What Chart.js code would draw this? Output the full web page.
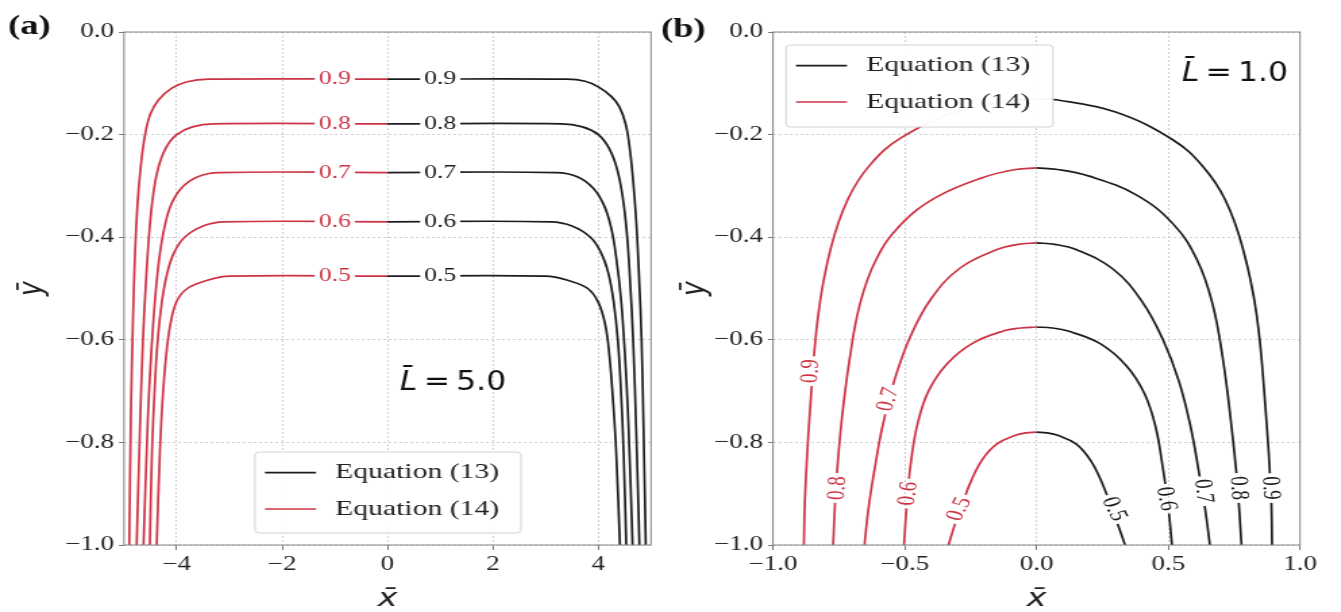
<!DOCTYPE html>
<html>
<head>
<meta charset="utf-8">
<title>Contours L = 5.0 / L = 1.0</title>
<script src="https://cdn.jsdelivr.net/npm/chart.js@4.4.1/dist/chart.umd.min.js"></script>
<style>
  html, body { margin: 0; padding: 0; background: #fff; overflow: hidden; }
  #fig { position: relative; width: 1341px; height: 612px; }
  #fig canvas { position: absolute; top: 0; }
</style>
</head>
<body>
<div id="fig">
  <canvas id="chartA"></canvas>
  <canvas id="chartB"></canvas>
</div>
<script>
// The source figure is stretched sideways, so each panel is drawn narrow and widened by CSS.
const STRETCH = 1.35;

const RED = '#cc3344';
const BLACK = '#1c1c1c';
const GRID = '#cfcfcf';
const TICK = '#777';
const FRAME = '#858585';

const seriesNames = ['Equation (13)', 'Equation (14)'];
const seriesColors = [BLACK, RED];
const levels = ['0.9', '0.8', '0.7', '0.6', '0.5'];

const yTicks = [0, -0.2, -0.4, -0.6, -0.8, -1.0];
const yTickLabels = ['0.0', '−0.2', '−0.4', '−0.6', '−0.8', '−1.0'];

// ---- panel (a), L = 5.0 ----
const lengthA = '5.0';
const xTicksA = [-4, -2, 0, 2, 4];
const xTickLabelsA = ['−4', '−2', '0', '2', '4'];

// Equation (13), right half, one curve per level
const eq13A = [
  [[0, -0.092], [3.4, -0.092], [3.75, -0.096], [4.0, -0.107], [4.25, -0.126], [4.4, -0.146], [4.52, -0.18], [4.6, -0.23], [4.66, -0.29], [4.72, -0.37], [4.77, -0.47], [4.82, -0.6], [4.86, -0.78], [4.9, -1.0]],
  [[0, -0.179], [3.3, -0.179], [3.7, -0.185], [4.0, -0.2], [4.2, -0.226], [4.35, -0.265], [4.46, -0.32], [4.54, -0.39], [4.6, -0.48], [4.66, -0.6], [4.72, -0.78], [4.78, -1.0]],
  [[0, -0.274], [3.2, -0.274], [3.6, -0.282], [3.9, -0.304], [4.1, -0.336], [4.24, -0.38], [4.34, -0.44], [4.43, -0.52], [4.5, -0.62], [4.57, -0.76], [4.65, -1.0]],
  [[0, -0.37], [3.1, -0.37], [3.5, -0.378], [3.85, -0.4], [4.05, -0.43], [4.19, -0.47], [4.29, -0.525], [4.37, -0.6], [4.43, -0.7], [4.48, -0.82], [4.53, -1.0]],
  [[0, -0.476], [3.0, -0.476], [3.45, -0.485], [3.8, -0.5], [4.0, -0.527], [4.13, -0.57], [4.21, -0.63], [4.28, -0.72], [4.34, -0.82], [4.41, -1.0]]
];

// Equation (14), left half
const eq14A = [
  [[0, -0.092], [-3.4, -0.092], [-3.8, -0.097], [-4.1, -0.11], [-4.35, -0.133], [-4.5, -0.16], [-4.6, -0.2], [-4.68, -0.26], [-4.74, -0.33], [-4.79, -0.43], [-4.83, -0.56], [-4.87, -0.75], [-4.9, -1.0]],
  [[0, -0.179], [-3.3, -0.179], [-3.7, -0.185], [-4.0, -0.2], [-4.2, -0.225], [-4.35, -0.265], [-4.45, -0.32], [-4.52, -0.39], [-4.58, -0.48], [-4.64, -0.6], [-4.7, -0.78], [-4.76, -1.0]],
  [[0, -0.274], [-3.2, -0.274], [-3.6, -0.282], [-3.9, -0.303], [-4.1, -0.335], [-4.23, -0.38], [-4.33, -0.44], [-4.41, -0.52], [-4.48, -0.62], [-4.55, -0.76], [-4.63, -1.0]],
  [[0, -0.37], [-3.1, -0.37], [-3.5, -0.378], [-3.85, -0.4], [-4.05, -0.43], [-4.18, -0.47], [-4.28, -0.525], [-4.36, -0.6], [-4.42, -0.7], [-4.47, -0.82], [-4.51, -1.0]],
  [[0, -0.476], [-3.0, -0.476], [-3.45, -0.485], [-3.8, -0.5], [-4.0, -0.525], [-4.12, -0.57], [-4.2, -0.63], [-4.27, -0.72], [-4.32, -0.82], [-4.38, -1.0]]
];

// where the inline level labels sit on the flat part (x value)
const clabelXA = [1.0, -1.0];

// ---- panel (b), L = 1.0 ----
const lengthB = '1.0';
const xTicksB = [-1, -0.5, 0, 0.5, 1];
const xTickLabelsB = ['−1.0', '−0.5', '0.0', '0.5', '1.0'];

const eq13B = [
  [[0, -0.131], [0.08, -0.1325], [0.3, -0.156], [0.517, -0.21], [0.633, -0.263], [0.716, -0.327], [0.782, -0.42], [0.835, -0.55], [0.87, -0.74], [0.89, -0.9], [0.894, -1.0]],
  [[0, -0.265], [0.08, -0.268], [0.2, -0.281], [0.38, -0.318], [0.52, -0.375], [0.61, -0.445], [0.668, -0.53], [0.708, -0.64], [0.738, -0.76], [0.762, -0.88], [0.778, -1.0]],
  [[0, -0.411], [0.07, -0.414], [0.15, -0.424], [0.29, -0.462], [0.4, -0.525], [0.48, -0.6], [0.54, -0.68], [0.585, -0.77], [0.617, -0.86], [0.64, -0.93], [0.658, -1.0]],
  [[0, -0.575], [0.06, -0.577], [0.12, -0.583], [0.24, -0.607], [0.34, -0.65], [0.41, -0.705], [0.452, -0.77], [0.478, -0.845], [0.499, -0.92], [0.514, -1.0]],
  [[0, -0.78], [0.04, -0.7815], [0.08, -0.786], [0.15, -0.803], [0.205, -0.835], [0.248, -0.878], [0.28, -0.92], [0.31, -0.962], [0.336, -1.0]]
];

const eq14B = [
  [[0, -0.131], [-0.08, -0.1325], [-0.3, -0.155], [-0.51, -0.205], [-0.63, -0.258], [-0.715, -0.325], [-0.78, -0.42], [-0.828, -0.55], [-0.86, -0.74], [-0.878, -0.9], [-0.883, -1.0]],
  [[0, -0.265], [-0.08, -0.268], [-0.2, -0.283], [-0.38, -0.322], [-0.52, -0.378], [-0.61, -0.445], [-0.67, -0.53], [-0.71, -0.64], [-0.74, -0.76], [-0.76, -0.88], [-0.772, -1.0]],
  [[0, -0.411], [-0.07, -0.414], [-0.15, -0.424], [-0.29, -0.46], [-0.4, -0.52], [-0.48, -0.595], [-0.54, -0.68], [-0.585, -0.77], [-0.617, -0.86], [-0.638, -0.93], [-0.653, -1.0]],
  [[0, -0.575], [-0.06, -0.577], [-0.12, -0.582], [-0.24, -0.606], [-0.34, -0.647], [-0.41, -0.7], [-0.452, -0.765], [-0.477, -0.84], [-0.492, -0.92], [-0.503, -1.0]],
  [[0, -0.78], [-0.04, -0.7815], [-0.08, -0.786], [-0.15, -0.803], [-0.205, -0.833], [-0.248, -0.875], [-0.282, -0.92], [-0.31, -0.96], [-0.334, -1.0]]
];

// inline labels: x, y, angle of the text in degrees
const clabelB13 = [[0.888, -0.889, 87], [0.766, -0.889, 86], [0.633, -0.895, 82], [0.492, -0.91, 78], [0.294, -0.93, 62]];
const clabelB14 = [[-0.857, -0.661, -87], [-0.755, -0.889, -86], [-0.563, -0.716, -72], [-0.486, -0.9, -82], [-0.293, -0.93, -63]];

// ---- drawing ----
const TICK_FONT = {family: 'Liberation Serif', size: 20};
const TITLE_FONT = {family: 'DejaVu Sans', style: 'italic', size: 25, lineHeight: 1};
const LABEL_FONT = '19px "Liberation Serif"';
const LEGEND_FONT = '22px "Liberation Serif"';
const NOTE_SIZE = 27;
const NOTE_SQUEEZE = 0.86;   // the L-bar note is less stretched than the rest

function contourSets(curves, color) {
  return curves.map((c, i) => ({
    label: levels[i],
    data: c.map(p => ({x: p[0], y: p[1]})),
    borderColor: color,
    borderWidth: 1.7,
    showLine: true,
    pointRadius: 0,
    fill: false,
    tension: 0.4
  }));
}

// extra drawing: inline labels (with a gap cut in the line), frame, legend, notes
function decorPlugin(d) {
  const cx = X => (X - d.geo.left) / d.s;
  const rot = deg => Math.atan2(Math.sin(deg * Math.PI / 180), Math.cos(deg * Math.PI / 180) / d.s);

  function labelBoxes(chart) {
    const ctx = chart.ctx;
    ctx.font = LABEL_FONT;
    return d.labels.map(lb => ({
      text: lb.text, color: lb.color,
      px: chart.scales.x.getPixelForValue(lb.x),
      py: chart.scales.y.getPixelForValue(lb.y),
      r: rot(lb.angle),
      w: ctx.measureText(lb.text).width + 6
    }));
  }

  return {
    id: 'decor',
    beforeDatasetsDraw(chart) {
      const ctx = chart.ctx;
      const boxes = labelBoxes(chart);
      ctx.save();
      const m = ctx.getTransform();
      ctx.beginPath();
      ctx.rect(0, 0, chart.width, chart.height);
      boxes.forEach(b => {
        ctx.translate(b.px, b.py);
        ctx.rotate(b.r);
        ctx.rect(-b.w / 2, -8, b.w, 16);
        ctx.setTransform(m);
      });
      ctx.clip('evenodd');
    },
    afterDatasetsDraw(chart) {
      const ctx = chart.ctx;
      const a = chart.chartArea;
      ctx.restore();
      ctx.save();

      // level labels
      ctx.font = LABEL_FONT;
      ctx.textAlign = 'center';
      ctx.textBaseline = 'middle';
      labelBoxes(chart).forEach(b => {
        ctx.save();
        ctx.translate(b.px, b.py);
        ctx.rotate(b.r);
        ctx.fillStyle = b.color;
        ctx.fillText(b.text, 0, 0);
        ctx.restore();
      });

      // axes frame
      ctx.strokeStyle = FRAME;
      ctx.lineWidth = 1;
      ctx.strokeRect(a.left, a.top, a.right - a.left, a.bottom - a.top);

      // legend
      const L = d.legend;
      const lx = cx(L.x), lw = L.w / d.s;
      ctx.beginPath();
      if (ctx.roundRect) ctx.roundRect(lx, L.y, lw, L.h, 3); else ctx.rect(lx, L.y, lw, L.h);
      ctx.fillStyle = 'rgba(255,255,255,0.96)';
      ctx.fill();
      ctx.strokeStyle = '#d2d2d2';
      ctx.lineWidth = 1;
      ctx.stroke();
      ctx.textAlign = 'left';
      seriesNames.forEach((name, i) => {
        const y = L.y + 20.7 + i * 36.3;
        ctx.strokeStyle = seriesColors[i];
        ctx.lineWidth = 1.7;
        ctx.beginPath();
        ctx.moveTo(lx + 10 / d.s, y);
        ctx.lineTo(lx + 61 / d.s, y);
        ctx.stroke();
        ctx.fillStyle = '#222';
        ctx.font = LEGEND_FONT;
        ctx.fillText(name, lx + 80 / d.s, y);
      });

      // L-bar note
      const N = d.note;
      const part1 = 'L\u0304', part2 = '\u2009=\u2009' + N.value;
      ctx.font = 'italic ' + NOTE_SIZE + 'px "DejaVu Sans"';
      const w1 = ctx.measureText(part1).width;
      ctx.font = NOTE_SIZE + 'px "DejaVu Sans"';
      const w2 = ctx.measureText(part2).width;
      let nx = cx(N.x);
      if (N.align === 'right') nx -= (w1 + w2) * NOTE_SQUEEZE;
      ctx.save();
      ctx.translate(nx, N.y);
      ctx.scale(NOTE_SQUEEZE, 1);
      ctx.fillStyle = '#111';
      ctx.font = 'italic ' + NOTE_SIZE + 'px "DejaVu Sans"';
      ctx.fillText(part1, 0, 0);
      ctx.font = NOTE_SIZE + 'px "DejaVu Sans"';
      ctx.fillText(part2, w1, 0);
      ctx.restore();

      // panel tag
      ctx.fillStyle = '#111';
      ctx.font = 'bold 27px "Liberation Serif"';
      ctx.fillText(d.tag.text, cx(d.tag.x), d.tag.y);
      ctx.restore();
    }
  };
}

function makeChart(id, geo, xMin, xMax, xTicks, xTickLabels, datasets, decor) {
  const canvas = document.getElementById(id);
  const w = Math.round(geo.width / STRETCH);
  const s = geo.width / w;
  canvas.width = w;
  canvas.height = 612;
  canvas.style.left = geo.left + 'px';
  canvas.style.width = geo.width + 'px';
  canvas.style.height = '612px';
  decor.s = s;
  decor.geo = geo;

  return new Chart(canvas, {
    type: 'scatter',
    data: {datasets},
    options: {
      responsive: false,
      animation: false,
      devicePixelRatio: 1,
      events: [],
      layout: {padding: {left: 0, top: geo.top, right: (geo.left + geo.width - geo.areaRight) / s, bottom: 0}},
      plugins: {legend: {display: false}, tooltip: {enabled: false}},
      scales: {
        x: {
          type: 'linear', min: xMin, max: xMax,
          afterBuildTicks: sc => { sc.ticks = xTicks.map(v => ({value: v})); },
          afterFit: sc => { sc.height = 612 - geo.bottom; },
          ticks: {autoSkip: false, maxRotation: 0, padding: 3, color: '#222', font: TICK_FONT,
                  callback: (v, i) => xTickLabels[i]},
          grid: {color: GRID, lineWidth: 1, tickColor: TICK, tickLength: 5, tickWidth: 1},
          border: {display: false, dash: [2, 2]},
          title: {display: true, text: 'x\u0304', color: '#222', font: TITLE_FONT, padding: {top: 0, bottom: 0}}
        },
        y: {
          type: 'linear', min: -1, max: 0,
          afterBuildTicks: sc => { sc.ticks = yTicks.map(v => ({value: v})); },
          afterFit: sc => { sc.width = (geo.areaLeft - geo.left) / s; },
          ticks: {autoSkip: false, padding: 5 / s, color: '#222', font: TICK_FONT,
                  callback: (v, i) => yTickLabels[i]},
          grid: {color: GRID, lineWidth: 1, tickColor: TICK, tickLength: 5 / s, tickWidth: 1},
          border: {display: false, dash: [2, 2]},
          title: {display: true, text: 'ȳ', color: '#222', font: TITLE_FONT,
                  padding: {top: (geo.yTitle - geo.left) / s - 12.5, bottom: 0}}
        }
      }
    },
    plugins: [decorPlugin(decor)]
  });
}

// panel (a)
const labelsA = [];
levels.forEach((lv, i) => {
  labelsA.push({x: clabelXA[1], y: eq14A[i][0][1], angle: 0, text: lv, color: RED});
  labelsA.push({x: clabelXA[0], y: eq13A[i][0][1], angle: 0, text: lv, color: BLACK});
});

makeChart('chartA',
  {left: 0, width: 660, areaLeft: 124, areaRight: 651, top: 32, bottom: 545, yTitle: 33},
  -5, 5, xTicksA, xTickLabelsA,
  contourSets(eq13A, BLACK).concat(contourSets(eq14A, RED)),
  {
    labels: labelsA,
    legend: {x: 255, y: 452, w: 266, h: 81},
    note: {value: lengthA, x: 400, y: 383, align: 'left'},
    tag: {text: '(a)', x: 8, y: 27}
  });

// panel (b)
const labelsB = [];
levels.forEach((lv, i) => {
  labelsB.push({x: clabelB14[i][0], y: clabelB14[i][1], angle: clabelB14[i][2], text: lv, color: RED});
  labelsB.push({x: clabelB13[i][0], y: clabelB13[i][1], angle: clabelB13[i][2], text: lv, color: BLACK});
});

makeChart('chartB',
  {left: 660, width: 681, areaLeft: 773, areaRight: 1300, top: 32, bottom: 545, yTitle: 696},
  -1, 1, xTicksB, xTickLabelsB,
  contourSets(eq13B, BLACK).concat(contourSets(eq14B, RED)),
  {
    labels: labelsB,
    legend: {x: 786, y: 45, w: 267, h: 82},
    note: {value: lengthB, x: 1288, y: 74, align: 'right'},
    tag: {text: '(b)', x: 661, y: 30}
  });
</script>
</body>
</html>
